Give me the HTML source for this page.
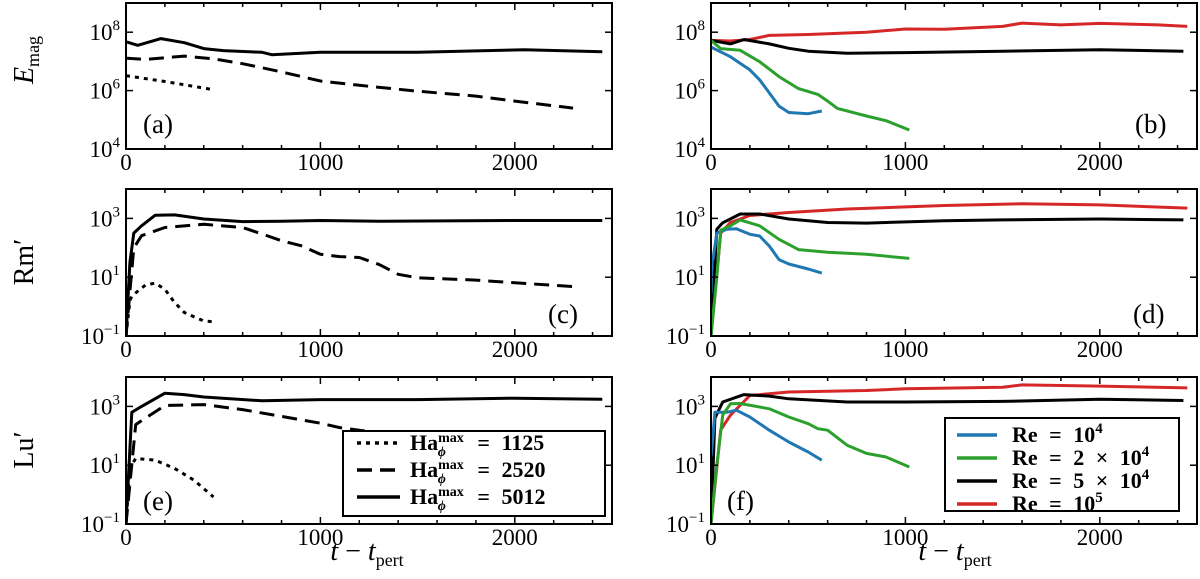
<!DOCTYPE html>
<html><head><meta charset="utf-8">
<style>
html,body{margin:0;padding:0;background:#fff;}
svg{display:block;font-family:"Liberation Serif","DejaVu Serif",serif;}
</style></head>
<body>
<svg id="fig" width="1200" height="579" viewBox="0 0 1200 579" xmlns="http://www.w3.org/2000/svg"></svg>
<script>
// ---- data (t values and log10 values) ----
const aSolidT=[0,60,180,300,400,500,700,750,1000,1500,2050,2450];
const aSolidV=[7.67,7.55,7.78,7.64,7.44,7.37,7.31,7.23,7.31,7.31,7.4,7.33];
const aDashT=[0,100,300,450,600,800,1000,1200,1500,1800,2000,2300];
const aDashV=[7.11,7.07,7.18,7.09,6.92,6.64,6.33,6.18,5.98,5.81,5.64,5.4];
const aDotT=[0,200,450];
const aDotV=[6.51,6.31,6.03];

const bRedT=[0,100,200,300,500,800,1000,1200,1500,1600,1800,2000,2300,2450];
const bRedV=[7.72,7.7,7.75,7.89,7.92,8.0,8.11,8.1,8.2,8.31,8.25,8.3,8.25,8.2];
const bBlackT=[0,100,170,300,400,500,700,1000,1500,2000,2430];
const bBlackV=[7.72,7.6,7.75,7.6,7.45,7.35,7.28,7.3,7.35,7.4,7.35];
const bBlueT=[0,100,200,250,300,350,400,500,570];
const bBlueV=[7.49,7.16,6.71,6.37,5.92,5.47,5.25,5.21,5.3];
const bGreenT=[0,50,150,250,350,450,550,600,650,800,900,1020];
const bGreenV=[7.72,7.44,7.38,6.99,6.48,6.07,5.87,5.64,5.39,5.13,4.97,4.65];

const cSolidT=[0,20,40,80,150,250,400,600,800,1000,1300,2000,2450];
const cSolidV=[-1,1.5,2.5,2.75,3.11,3.12,2.98,2.89,2.9,2.93,2.9,2.93,2.93];
const cDashT=[0,40,80,200,400,600,700,800,900,1000,1100,1200,1300,1400,1500,1800,2000,2300];
const cDashV=[-1,2,2.41,2.69,2.8,2.69,2.47,2.24,2.07,1.78,1.7,1.67,1.44,1.1,0.98,0.9,0.81,0.68];
const cDotT=[0,20,30,100,150,200,250,300,400,460];
const cDotV=[-1,0.2,0.36,0.73,0.8,0.59,0.14,-0.2,-0.49,-0.52];

const dRedT=[0,50,100,200,400,700,1200,1600,2000,2450];
const dRedV=[-1,2.5,2.86,3.1,3.2,3.32,3.44,3.5,3.46,3.35];
const dBlackT=[0,30,60,150,250,400,600,800,1200,1500,2000,2430];
const dBlackV=[-1,2.63,2.85,3.15,3.15,2.98,2.86,2.84,2.92,2.95,2.98,2.95];
const dBlueT=[0,5,10,30,80,130,200,250,300,350,400,500,570];
const dBlueV=[0.45,1.6,1.6,2.5,2.63,2.65,2.46,2.4,2.06,1.6,1.45,1.28,1.14];
const dGreenT=[0,30,50,100,150,250,350,450,600,800,1020];
const dGreenV=[-1,1.0,2.6,2.75,2.95,2.75,2.29,1.94,1.85,1.78,1.64];

const eSolidT=[0,30,80,200,300,400,700,1000,1500,2000,2450];
const eSolidV=[-1,2.8,3.0,3.45,3.4,3.32,3.19,3.23,3.23,3.28,3.24];
const eDashT=[0,50,100,200,400,600,800,1000,1100,1300];
const eDashV=[-1,2.38,2.6,3.03,3.06,2.89,2.66,2.43,2.28,2.1];
const eDotT=[0,20,50,150,250,350,450];
const eDotV=[-1,0.9,1.23,1.17,0.89,0.49,-0.08];

const fRedT=[0,50,100,200,400,800,1000,1500,1600,2000,2450];
const fRedV=[-1,2.2,2.7,3.37,3.49,3.54,3.6,3.65,3.73,3.69,3.63];
const fBlackT=[0,20,60,170,300,400,700,1000,1500,2000,2430];
const fBlackV=[-1,2.6,3.15,3.4,3.35,3.26,3.15,3.15,3.17,3.24,3.2];
const fBlueT=[0,5,20,80,130,200,300,400,500,570];
const fBlueV=[1.3,1.6,2.8,2.8,2.87,2.64,2.19,1.79,1.45,1.17];
const fGreenT=[0,30,60,100,150,300,400,500,550,600,700,800,900,1020];
const fGreenV=[-1,1.0,2.7,3.09,3.1,2.92,2.64,2.41,2.24,2.19,1.68,1.4,1.28,0.94];

const xTickLabels=["0","1000","2000"];
const yTicksTop=[4,6,8];
const yTicksLow=[-1,1,3];

// ---- layout ----
const NS="http://www.w3.org/2000/svg";
const svg=document.getElementById('fig');
const COLS=[{x0:126,x1:612},{x0:711,x1:1197}];
const ROWS=[{y0:3,h:146},{y0:189,h:147},{y0:377,h:147}];
const XMAX=2500;
function mk(tag,attrs,parent){const e=document.createElementNS(NS,tag);for(const k in attrs)e.setAttribute(k,attrs[k]);(parent||svg).appendChild(e);return e;}

function panel(col,row,ymin,ymax,yTicks,label,labelPos,series,name){
  const C=COLS[col],R=ROWS[row];
  const xs=t=>C.x0+(t/XMAX)*(C.x1-C.x0);
  const ys=v=>R.y0+R.h-(v-ymin)/(ymax-ymin)*R.h;
  const g=mk('g',{});
  
  
  const cid='clip-'+name;
  const cp=mk('clipPath',{id:cid},g);mk('rect',{x:C.x0,y:R.y0,width:C.x1-C.x0,height:R.h},cp);
  const sg=mk('g',{'clip-path':'url(#'+cid+')'},g);
  series.forEach(s=>{
    const d=s.t.map((t,i)=>(i?'L':'M')+xs(t).toFixed(1)+' '+ys(s.v[i]).toFixed(1)).join(' ');
    const p=mk('path',{d:d,fill:'none',stroke:s.c,'stroke-width':s.w||3,'stroke-linejoin':'round'},sg);
    if(s.dash)p.setAttribute('stroke-dasharray',s.dash);
    
    
  });
  const fr=mk('rect',{x:C.x0,y:R.y0,width:C.x1-C.x0,height:R.h,fill:'none',stroke:'#000','stroke-width':2},g);
  
  
  for(let t=0;t<=XMAX;t+=200){
    const x=xs(t);const major=t%1000===0;const L=major?7:4;
    mk('line',{x1:x,x2:x,y1:R.y0+R.h,y2:R.y0+R.h-L,stroke:'#000','stroke-width':1.5},g);
    mk('line',{x1:x,x2:x,y1:R.y0,y2:R.y0+L,stroke:'#000','stroke-width':1.5},g);
  }
  xTickLabels.forEach((s,i)=>{
    const tx=mk('text',{x:xs(i*1000),y:R.y0+R.h+21,'font-size':23,'text-anchor':'middle'},g);
    tx.textContent=s;
    
    
  });
  yTicks.forEach(v=>{
    const y=ys(v);
    mk('line',{x1:C.x0,x2:C.x0+7,y1:y,y2:y,stroke:'#000','stroke-width':1.5},g);
    mk('line',{x1:C.x1,x2:C.x1-7,y1:y,y2:y,stroke:'#000','stroke-width':1.5},g);
    const tx=mk('text',{x:C.x0-6,y:y+8,'font-size':23,'text-anchor':'end'},g);
    tx.innerHTML='10<tspan dy="-10" font-size="15">'+(v<0?'\u2212'+(-v):v)+'</tspan>';
    
    
  });
  const lb=mk('text',{x:labelPos[0],y:labelPos[1],'font-size':27},g);
  lb.textContent=label;
  
  
}
const BLUE='#1f77b4',GREEN='#2ca02c',RED='#d62728',BLK='#000';
const DASH='15 8',DOT='4 5';
panel(0,0,4,9,yTicksTop,'(a)',[143,133],[
 {t:aDotT,v:aDotV,c:BLK,dash:DOT,n:'line-ha-1125'},
 {t:aDashT,v:aDashV,c:BLK,dash:DASH,n:'line-ha-2520'},
 {t:aSolidT,v:aSolidV,c:BLK,n:'line-ha-5012'}],'a');
panel(1,0,4,9,yTicksTop,'(b)',[1135,133],[
 {t:bRedT,v:bRedV,c:RED,n:'line-re-1e5'},
 {t:bBlackT,v:bBlackV,c:BLK,n:'line-re-5e4'},
 {t:bBlueT,v:bBlueV,c:BLUE,n:'line-re-1e4'},
 {t:bGreenT,v:bGreenV,c:GREEN,n:'line-re-2e4'}],'b');
panel(0,1,-1,4,yTicksLow,'(c)',[548,323],[
 {t:cDotT,v:cDotV,c:BLK,dash:DOT,n:'line-ha-1125'},
 {t:cDashT,v:cDashV,c:BLK,dash:DASH,n:'line-ha-2520'},
 {t:cSolidT,v:cSolidV,c:BLK,n:'line-ha-5012'}],'c');
panel(1,1,-1,4,yTicksLow,'(d)',[1133,323],[
 {t:dRedT,v:dRedV,c:RED,n:'line-re-1e5'},
 {t:dBlackT,v:dBlackV,c:BLK,n:'line-re-5e4'},
 {t:dBlueT,v:dBlueV,c:BLUE,n:'line-re-1e4'},
 {t:dGreenT,v:dGreenV,c:GREEN,n:'line-re-2e4'}],'d');
panel(0,2,-1,4,yTicksLow,'(e)',[143,510],[
 {t:eDotT,v:eDotV,c:BLK,dash:DOT,n:'line-ha-1125'},
 {t:eDashT,v:eDashV,c:BLK,dash:DASH,n:'line-ha-2520'},
 {t:eSolidT,v:eSolidV,c:BLK,n:'line-ha-5012'}],'e');
panel(1,2,-1,4,yTicksLow,'(f)',[727,510],[
 {t:fRedT,v:fRedV,c:RED,n:'line-re-1e5'},
 {t:fBlackT,v:fBlackV,c:BLK,n:'line-re-5e4'},
 {t:fBlueT,v:fBlueV,c:BLUE,n:'line-re-1e4'},
 {t:fGreenT,v:fGreenV,c:GREEN,n:'line-re-2e4'}],'f');

function ytitle(txt,y,name){
  const t=mk('text',{x:0,y:0,'font-size':28,'text-anchor':'middle',transform:'translate(33,'+y+') rotate(-90)'});
  t.innerHTML=txt;
  
  
}
ytitle('<tspan font-style="italic">E</tspan><tspan font-size="18" dy="6">mag</tspan>',60,'y-axis-title-emag');
ytitle('Rm\u2032',262,'y-axis-title-rm');
ytitle('Lu\u2032',450,'y-axis-title-lu');
function xtitle(x,name){
  const t=mk('text',{x:x,y:560,'font-size':28,'text-anchor':'middle'});
  t.innerHTML='<tspan font-style="italic">t</tspan> \u2212 <tspan font-style="italic">t</tspan><tspan font-size="18" dy="6">pert</tspan>';
  
  
}
xtitle(367,'x-axis-title-left');
xtitle(955,'x-axis-title-right');

// legends
const legL=mk('g',{});


mk('rect',{x:343,y:431,width:262,height:85,fill:'#fff',stroke:'#000','stroke-width':2},legL);
const haVals=["1125","2520","5012"];
const haDash=[DOT,DASH,null];
haVals.forEach((v,i)=>{
  const y=443+i*27;
  const ln=mk('line',{x1:357,x2:400,y1:y,y2:y,stroke:'#000','stroke-width':3.5},legL);
  if(haDash[i])ln.setAttribute('stroke-dasharray',haDash[i]);
  
  
  const t=mk('text',{x:410,y:y+7,'font-size':22,'font-weight':'bold','word-spacing':'6'},legL);
  t.innerHTML='Ha<tspan font-size="14" dy="-8">max</tspan><tspan font-size="14" dx="-26" dy="14" font-style="italic">\u03d5</tspan><tspan dy="-6" dx="20"> = '+v+'</tspan>';
  
  
});
const legR=mk('g',{});


mk('rect',{x:945,y:418,width:234,height:93,fill:'#fff',stroke:'#000','stroke-width':2},legR);
const reLabels=['Re = 10<tspan font-size="15" dy="-9">4</tspan>','Re = 2 \u00d7 10<tspan font-size="15" dy="-9">4</tspan>','Re = 5 \u00d7 10<tspan font-size="15" dy="-9">4</tspan>','Re = 10<tspan font-size="15" dy="-9">5</tspan>'];
const reCols=[BLUE,GREEN,BLK,RED];
const reNames=['1e4','2e4','5e4','1e5'];
reLabels.forEach((s,i)=>{
  const y=435+i*23;
  const ln=mk('line',{x1:957,x2:997,y1:y,y2:y,stroke:reCols[i],'stroke-width':3.5},legR);
  
  
  const t=mk('text',{x:1012,y:y+7,'font-size':22,'font-weight':'bold','word-spacing':'6'},legR);
  t.innerHTML=s;
  
  
});
</script>
</body></html>
